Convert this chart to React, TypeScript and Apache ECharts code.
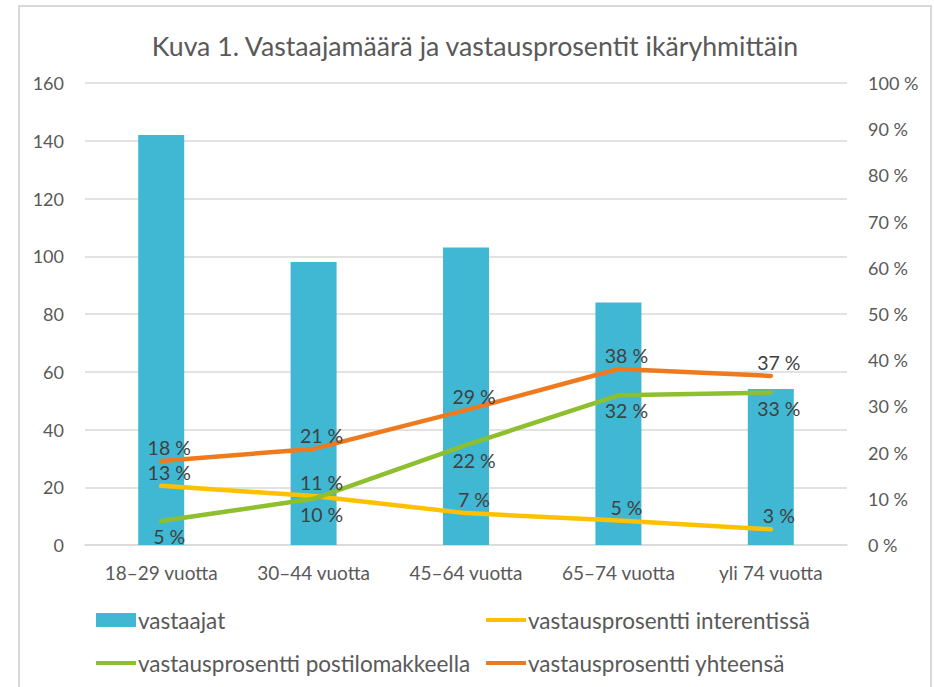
import React, { useEffect, useRef } from "react";
import * as echarts from "echarts";

const titleText = "Kuva 1. Vastaajamäärä ja vastausprosentit ikäryhmittäin";
const categories = ["18–29 vuotta", "30–44 vuotta", "45–64 vuotta", "65–74 vuotta", "yli 74 vuotta"];
const seriesNames = [
  "vastaajat",
  "vastausprosentti interentissä",
  "vastausprosentti postilomakkeella",
  "vastausprosentti yhteensä",
];
const vastaajat = [142, 98, 103, 84, 54];
const internet = [12.8, 10.6, 6.9, 5.3, 3.4];
const posti = [5.2, 10.0, 21.6, 32.4, 33.0];
const yhteensa = [18.2, 20.8, 29.2, 38.1, 36.6];
const leftAxis = { min: 0, max: 160, interval: 20 };
const rightAxis = { min: 0, max: 100, interval: 10 };

const FONT = "Lato";
const TEXT = "#595959";
const LABEL = "#404040";
const GRID = "#d9d9d9";
const LINE_ICON = "path://M0,0L40,0L40,4L0,4Z";

export default function App() {
  const ref = useRef<HTMLDivElement>(null);
  useEffect(() => {
    if (!ref.current) return;
    const chart = echarts.init(ref.current, undefined, { renderer: "svg" });
    const pctLabel = (pos: "top" | "bottom", dist: number) => ({
      show: true,
      position: pos,
      distance: dist,
      offset: [8, 0],
      color: LABEL,
      fontFamily: FONT,
      fontSize: 19.5,
      formatter: (p: any) => Math.round(p.value) + " %",
    });
    const lineSeries = (name: string, data: number[], color: string, pos: "top" | "bottom", dist: number) => ({
      name,
      type: "line",
      yAxisIndex: 1,
      data,
      symbol: "circle",
      symbolSize: 1,
      showSymbol: true,
      itemStyle: { color },
      lineStyle: { color, width: 4.5, cap: "round", join: "round" },
      label: pctLabel(pos, dist),
      z: 3,
    });
    const legendCommon = {
      orient: "vertical",
      itemWidth: 40,
      itemHeight: 14,
      itemGap: 17,
      textStyle: {
        color: TEXT,
        fontFamily: FONT,
        fontSize: 22.5,
        lineHeight: 26,
        padding: [0, 0, 0, -3],
      },
      selectedMode: false,
    };
    chart.setOption({
      animation: false,
      backgroundColor: "#ffffff",
      textStyle: { fontFamily: FONT },
      graphic: [
        {
          type: "rect",
          shape: { x: 19, y: 6, width: 912, height: 700 },
          style: { fill: "none", stroke: GRID, lineWidth: 2 },
          silent: true,
        },
        {
          type: "text",
          x: 475,
          y: 46,
          style: {
            text: titleText,
            align: "center",
            verticalAlign: "middle",
            fill: TEXT,
            fontFamily: FONT,
            fontSize: 26.7,
          },
        },
      ],
      legend: [
        {
          ...legendCommon,
          left: 91,
          top: 602,
          data: [
            { name: seriesNames[0], icon: "rect" },
            { name: seriesNames[2], icon: LINE_ICON },
          ],
        },
        {
          ...legendCommon,
          left: 481,
          top: 602,
          data: [
            { name: seriesNames[1], icon: LINE_ICON },
            { name: seriesNames[3], icon: LINE_ICON },
          ],
        },
      ],
      grid: { left: 85, right: 87, top: 83, bottom: 142, containLabel: false },
      xAxis: {
        type: "category",
        data: categories,
        axisLine: { show: true, lineStyle: { color: GRID, width: 1.5 } },
        axisTick: { show: false },
        axisLabel: { color: TEXT, fontFamily: FONT, fontSize: 19, margin: 18 },
      },
      yAxis: [
        {
          type: "value",
          ...leftAxis,
          axisLine: { show: false },
          axisTick: { show: false },
          axisLabel: { color: TEXT, fontFamily: FONT, fontSize: 18, margin: 21 },
          splitLine: { show: true, lineStyle: { color: GRID, width: 1.5 } },
        },
        {
          type: "value",
          ...rightAxis,
          position: "right",
          axisLine: { show: false },
          axisTick: { show: false },
          axisLabel: {
            color: TEXT,
            fontFamily: FONT,
            fontSize: 18,
            margin: 21,
            formatter: "{value} %",
          },
          splitLine: { show: false },
        },
      ],
      series: [
        {
          name: seriesNames[0],
          type: "bar",
          data: vastaajat,
          barWidth: 46,
          itemStyle: { color: "#40B8D3" },
          z: 2,
        },
        lineSeries(seriesNames[1], internet, "#FFC000", "top", 3),
        lineSeries(seriesNames[2], posti, "#8DBF2E", "bottom", 5),
        lineSeries(seriesNames[3], yhteensa, "#EF7A1E", "top", 3),
      ],
    });
    return () => chart.dispose();
  }, []);
  return (
    <div
      ref={ref}
      style={{ position: "fixed", left: 0, top: 0, width: 934, height: 687, background: "#fff" }}
    />
  );
}
